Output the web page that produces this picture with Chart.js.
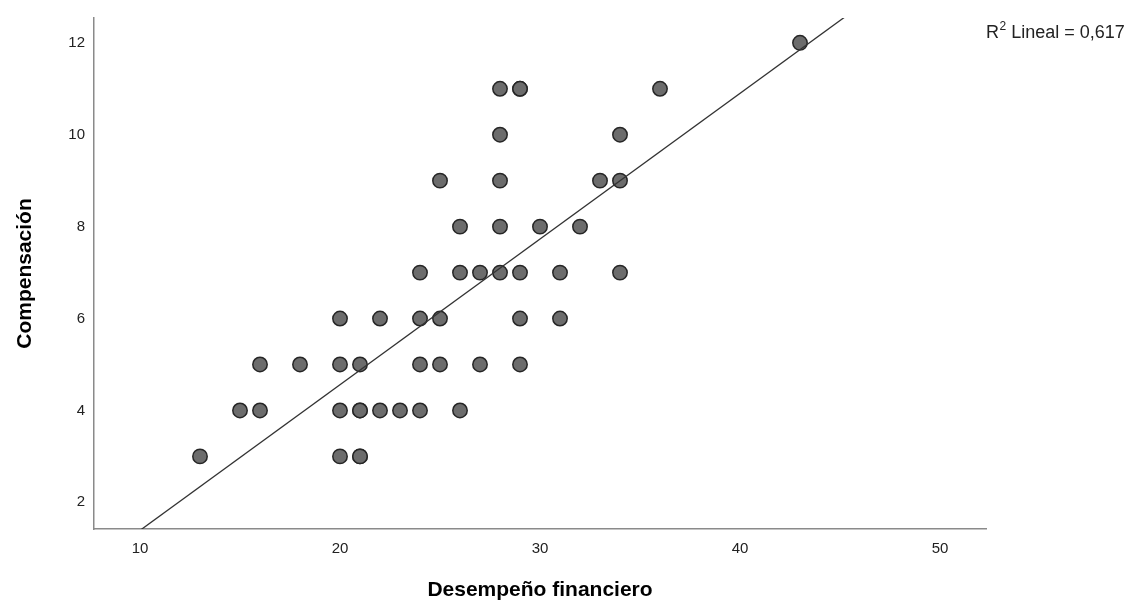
<!DOCTYPE html>
<html>
<head>
<meta charset="utf-8">
<script src="https://cdn.jsdelivr.net/npm/chart.js@4.4.1/dist/chart.umd.min.js"></script>
<style>
  html, body { margin: 0; padding: 0; background: #ffffff; }
  #wrap { width: 1143px; height: 609px; position: relative; }
</style>
</head>
<body>
<div id="wrap"><canvas id="c" width="1143" height="609"></canvas></div>
<script>
// Observed cases: financial performance (x) against compensation (y)
const desempeno    = [43, 28, 29, 29, 36, 28, 34, 25, 28, 33, 34, 26, 28, 30, 32,
                      24, 26, 27, 28, 29, 31, 34, 20, 22, 24, 25, 29, 31,
                      16, 18, 20, 21, 24, 25, 27, 29, 15, 16, 20, 21, 21, 22, 23, 24, 26,
                      13, 20, 21, 21];
const compensacion = [12, 11, 11, 11, 11, 10, 10, 9, 9, 9, 9, 8, 8, 8, 8,
                      7, 7, 7, 7, 7, 7, 7, 6, 6, 6, 6, 6, 6,
                      5, 5, 5, 5, 5, 5, 5, 5, 4, 4, 4, 4, 4, 4, 4, 4, 4,
                      3, 3, 3, 3];

const xTicks = [10, 20, 30, 40, 50];
const yTicks = [2, 4, 6, 8, 10, 12];
const xRange = [7.7, 52.3];
const yRange = [1.42, 12.54];

// Least-squares fit line
const fitIntercept = -1.78;
const fitSlope = 0.317;
const rSquared = '0,617';

const FONT = '"Liberation Sans", Arial, sans-serif';

const points = desempeno.map((x, i) => ({ x: x, y: compensacion[i] }));
const fitLine = xRange.map(x => ({ x: x, y: fitIntercept + fitSlope * x }));

const annotations = {
  id: 'annotations',
  afterDraw(chart) {
    const ctx = chart.ctx;
    const area = chart.chartArea;
    ctx.save();
    ctx.fillStyle = '#000000';
    ctx.font = 'bold 21px ' + FONT;
    ctx.textAlign = 'center';
    ctx.textBaseline = 'middle';
    // x-axis title
    ctx.fillText('Desempeño financiero', (area.left + area.right) / 2, 590);
    // y-axis title
    ctx.save();
    ctx.translate(25, (area.top + area.bottom) / 2);
    ctx.rotate(-Math.PI / 2);
    ctx.fillText('Compensación', 0, 0);
    ctx.restore();

    // R² label
    ctx.fillStyle = '#222222';
    ctx.textAlign = 'left';
    ctx.textBaseline = 'alphabetic';
    let x = 986;
    const base = 38;
    ctx.font = '18px ' + FONT;
    ctx.fillText('R', x, base);
    x += ctx.measureText('R').width;
    ctx.font = '12px ' + FONT;
    ctx.fillText('2', x + 0.5, base - 8);
    x += ctx.measureText('2').width + 0.5;
    ctx.font = '18px ' + FONT;
    ctx.fillText(' Lineal = ' + rSquared, x, base);
    ctx.restore();
  }
};

new Chart(document.getElementById('c'), {
  type: 'scatter',
  data: {
    datasets: [
      {
        type: 'line',
        data: fitLine,
        borderColor: '#333333',
        borderWidth: 1.3,
        pointRadius: 0,
        fill: false,
        order: 0
      },
      {
        data: points,
        backgroundColor: '#6c6c6c',
        borderColor: '#262626',
        borderWidth: 1.5,
        pointRadius: 7.2,
        pointHoverRadius: 7.2,
        order: 1
      }
    ]
  },
  options: {
    responsive: false,
    animation: false,
    devicePixelRatio: 1,
    layout: { padding: { left: 0, right: 157, top: 13, bottom: 0 } },
    plugins: {
      legend: { display: false },
      tooltip: { enabled: false }
    },
    scales: {
      x: {
        type: 'linear',
        min: xRange[0],
        max: xRange[1],
        afterBuildTicks: s => { s.ticks = xTicks.map(v => ({ value: v })); },
        afterFit: s => { s.height = 80; },
        grid: { display: false, drawTicks: false },
        border: { display: true, color: '#8a8a8a', width: 1.5 },
        ticks: {
          padding: 11,
          color: '#222222',
          font: { family: FONT, size: 15 },
          callback: v => String(v)
        }
      },
      y: {
        type: 'linear',
        min: yRange[0],
        max: yRange[1],
        afterBuildTicks: s => { s.ticks = yTicks.map(v => ({ value: v })); },
        afterFit: s => { s.width = 94; },
        grid: { display: false, drawTicks: false },
        border: { display: true, color: '#8a8a8a', width: 1.5 },
        ticks: {
          padding: 9,
          color: '#222222',
          font: { family: FONT, size: 15 },
          callback: v => String(v)
        }
      }
    }
  },
  plugins: [annotations]
});
</script>
</body>
</html>
